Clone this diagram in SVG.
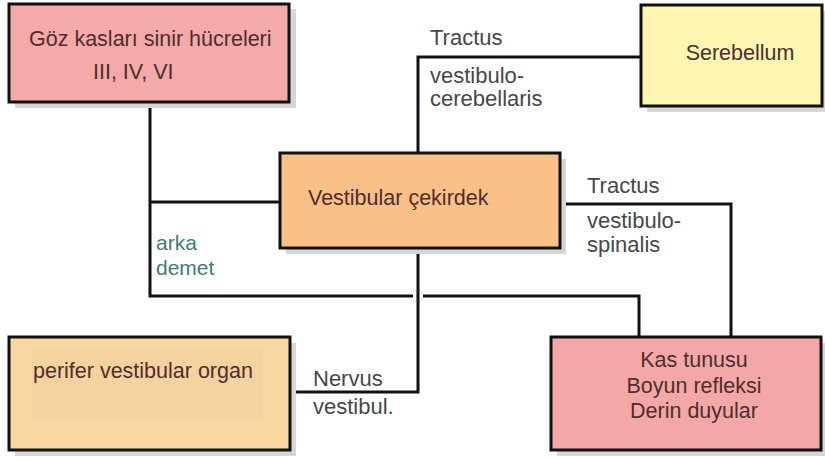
<svg xmlns="http://www.w3.org/2000/svg" width="825" height="459" viewBox="0 0 825 459">
<style>
.box{stroke:#111;stroke-width:3}
.sh{fill:#d6d6d6}
.bt{font-family:"Liberation Sans",Arial,sans-serif;font-size:21.5px;fill:#4e2e2e}
.lb{font-family:"Liberation Sans",Arial,sans-serif;font-size:22px;fill:#474747}
.tl{font-family:"Liberation Sans",Arial,sans-serif;font-size:21px;fill:#3f7a78}
.cn{fill:none;stroke:#111;stroke-width:3}
</style>
<rect width="825" height="459" fill="#fff"/>
<g id="connectors">
<polyline class="cn" points="150,102 150,296 413,296"/>
<line class="cn" x1="150" y1="202" x2="280" y2="202"/>
<polyline class="cn" points="418,153 418,57 641,57"/>
<polyline class="cn" points="423,296 639,296 639,337"/>
<polyline class="cn" points="560,204 731,204 731,337"/>
<polyline class="cn" points="418,248 418,392 290,392"/>
</g>
<g id="n-goz">
<rect class="sh" x="15" y="9" width="281" height="99"/>
<rect class="box" x="9" y="4" width="280" height="98" fill="#f4aaa8"/>
<text class="bt" x="29" y="46">Göz kasları sinir hücreleri</text>
<text class="bt" x="93" y="79">III, IV, VI</text>
</g>
<g id="n-serebellum">
<rect class="sh" x="647" y="11" width="178" height="101"/>
<rect class="box" x="641" y="5" width="181" height="101" fill="#fff6b2"/>
<text class="bt" x="740" y="60" text-anchor="middle">Serebellum</text>
</g>
<g id="n-vestibular">
<rect class="sh" x="286" y="159" width="280" height="95"/>
<rect class="box" x="280" y="153" width="280" height="95" fill="#f9c088"/>
<text class="bt" x="308" y="205">Vestibular çekirdek</text>
</g>
<g id="n-perifer">
<rect class="sh" x="15" y="343" width="281" height="113"/>
<rect class="box" x="9" y="337" width="281" height="113" fill="#f9d6a2"/>
<rect x="32" y="350" width="231" height="68" fill="#f5d29f"/>
<text class="bt" x="33" y="378">perifer vestibular organ</text>
</g>
<g id="n-kas">
<rect class="sh" x="557" y="343" width="268" height="113"/>
<rect class="box" x="551" y="337" width="270" height="113" fill="#f3a7a7"/>
<text class="bt" x="694" y="367" text-anchor="middle">Kas tunusu</text>
<text class="bt" x="694" y="393" text-anchor="middle">Boyun refleksi</text>
<text class="bt" x="694" y="418" text-anchor="middle">Derin duyular</text>
</g>
<g id="labels">
<text class="lb" x="430" y="45">Tractus</text>
<text class="lb" x="430" y="83">vestibulo-</text>
<text class="lb" x="430" y="106">cerebellaris</text>
<text class="lb" x="587" y="193">Tractus</text>
<text class="lb" x="587" y="228">vestibulo-</text>
<text class="lb" x="587" y="252">spinalis</text>
<text class="tl" x="156" y="250">arka</text>
<text class="tl" x="156" y="275">demet</text>
<text class="lb" x="313" y="386">Nervus</text>
<text class="lb" x="313" y="414">vestibul.</text>
</g>
</svg>
